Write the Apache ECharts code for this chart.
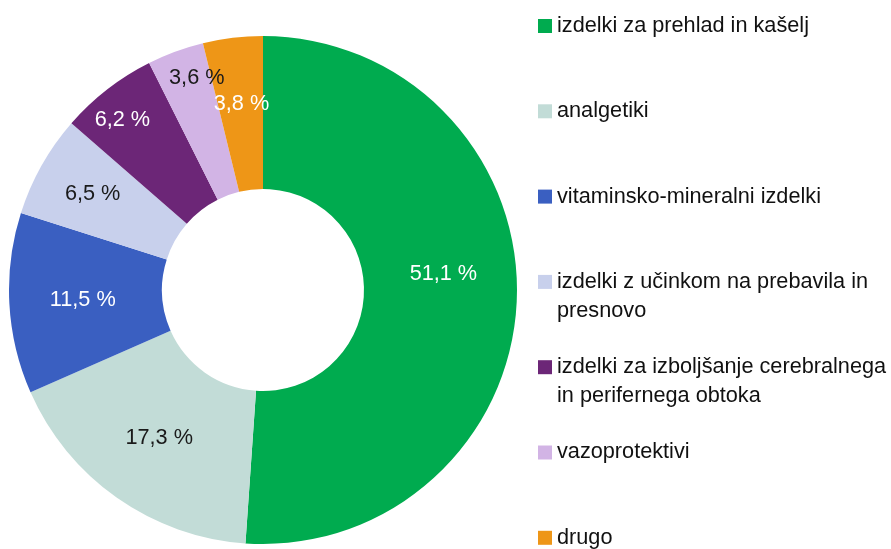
<!DOCTYPE html>
<html>
<head>
<meta charset="utf-8">
<script src="https://cdn.jsdelivr.net/npm/echarts@6/dist/echarts.min.js"></script>
<style>
  html, body { margin: 0; padding: 0; background: #ffffff; }
  #chart { width: 891px; height: 549px; }
</style>
</head>
<body>
<div id="chart"></div>
<script>
// ---- data ----
const categories = [
  'izdelki za prehlad in kašelj',
  'analgetiki',
  'vitaminsko-mineralni izdelki',
  'izdelki z učinkom na prebavila in presnovo',
  'izdelki za izboljšanje cerebralnega in perifernega obtoka',
  'vazoprotektivi',
  'drugo'
];
const shares = [51.1, 17.3, 11.5, 6.5, 6.2, 3.6, 3.8];
const legendLines = [
  ['izdelki za prehlad in kašelj'],
  ['analgetiki'],
  ['vitaminsko-mineralni izdelki'],
  ['izdelki z učinkom na prebavila in', 'presnovo'],
  ['izdelki za izboljšanje cerebralnega', 'in perifernega obtoka'],
  ['vazoprotektivi'],
  ['drugo']
];

// ---- styles ----
const colors = ['#00AB4F', '#C2DCD7', '#3A5FC1', '#C8D0EC', '#6C2677', '#D2B4E5', '#EE9617'];
const labelColors = ['#ffffff', '#1a1a1a', '#ffffff', '#1a1a1a', '#ffffff', '#1a1a1a', '#ffffff'];
const labelNudge = [[0, -22], [0, 0], [0, 0], [-13, -8], [-30, -27], [-4, -43], [0, -7]];
const FONT = "'Liberation Sans', Arial, sans-serif";
const FS = 21.7;
const LH = 29;
const legendFirstCenter = 26;
const legendStep = 85.3;

const fmt = v => v.toFixed(1).replace('.', ',') + ' %';

const legends = categories.map((name, i) => {
  const lines = legendLines[i];
  const multi = lines.length > 1;
  // for wrapped entries an empty first line keeps the marker beside the first text line
  const text = multi ? '\n' + lines.join('\n') : lines[0];
  const halfBlock = multi ? (LH * (2 * lines.length - 1)) / 2 : LH / 2;
  return {
    orient: 'vertical',
    left: 538,
    top: legendFirstCenter + i * legendStep - halfBlock,
    padding: 0,
    itemWidth: 14,
    itemHeight: 14,
    icon: 'rect',
    selectedMode: false,
    data: [name],
    formatter: () => text + (multi ? '\n'.repeat(lines.length - 2) : ''),
    textStyle: {
      fontFamily: FONT,
      fontSize: FS,
      lineHeight: LH,
      color: '#111111'
    }
  };
});

const chart = echarts.init(document.getElementById('chart'), null, { renderer: 'canvas' });
chart.setOption({
  animation: false,
  backgroundColor: '#ffffff',
  color: colors,
  legend: legends,
  series: [{
    type: 'pie',
    center: [263, 290],
    radius: [101, 254],
    startAngle: 90,
    clockwise: true,
    avoidLabelOverlap: false,
    silent: true,
    itemStyle: { borderWidth: 0 },
    label: {
      show: true,
      position: 'inside',
      fontFamily: FONT,
      fontSize: FS,
      formatter: p => fmt(p.value)
    },
    labelLine: { show: false },
    labelLayout: p => ({ dx: labelNudge[p.dataIndex][0], dy: labelNudge[p.dataIndex][1] }),
    data: categories.map((name, i) => ({
      name: name,
      value: shares[i],
      itemStyle: { color: colors[i] },
      label: { color: labelColors[i] }
    }))
  }]
});
</script>
</body>
</html>
